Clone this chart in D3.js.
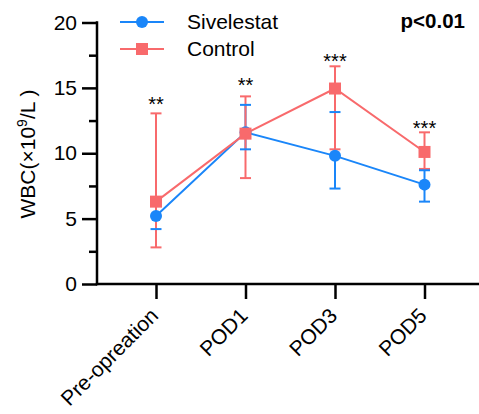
<!DOCTYPE html>
<html><head><meta charset="utf-8">
<script src="https://cdn.jsdelivr.net/npm/d3@7"></script>
<style>body{margin:0;background:#fff}svg{display:block}</style>
</head><body>
<script>
const categories = ["Pre-opreation","POD1","POD3","POD5"];
const sivMean  = [5.2, 11.6, 9.8, 7.6];
const sivLow   = [4.2, 10.3, 7.3, 6.3];
const sivHigh  = [6.2, 13.7, 13.15, 8.7];
const ctlMean  = [6.3, 11.5, 14.95, 10.1];
const ctlLow   = [2.8, 8.1, 10.3, 8.8];
const ctlHigh  = [13.05, 14.35, 16.65, 11.6];
const sigLabels = ["**","**","***","***"];
const sigAt     = [13.2, 14.7, 16.5, 11.4];
const yTicks = [0,5,10,15,20];
const yMinor = [2.5,7.5,12.5,17.5];

const W=479,H=414;
const svg=d3.select("body").append("svg").attr("width",W).attr("height",H);
const font="Liberation Sans, Arial, sans-serif";
const blue="#1A86F9", red="#F86A6C";
const x0=97, y0=284;
const FS=21;
const y=d3.scaleLinear().domain([0,20]).range([284,22.5]);
const x=d3.scalePoint().domain(categories).range([156,424.5]);

// y axis
const ya=svg.append("g").attr("transform",`translate(${x0},0)`)
 .call(d3.axisLeft(y).tickValues(yTicks).tickSize(15).tickPadding(5).tickSizeOuter(0));
ya.select(".domain").remove();
ya.selectAll(".tick line").attr("stroke","#000").attr("stroke-width",2.5);
ya.selectAll(".tick text").attr("font-family",font).attr("font-size",FS).attr("fill","#000");
const ym=svg.append("g").attr("transform",`translate(${x0},0)`)
 .call(d3.axisLeft(y).tickValues(yMinor).tickSize(8).tickFormat(""));
ym.select(".domain").remove();
ym.selectAll(".tick line").attr("stroke","#000").attr("stroke-width",2.5);
svg.append("line").attr("x1",x0).attr("x2",x0).attr("y1",y(20)-1.2).attr("y2",y0+1.2).attr("stroke","#000").attr("stroke-width",2.5);

// x axis
const xa=svg.append("g").attr("transform",`translate(0,${y0})`)
 .call(d3.axisBottom(x).tickSize(15).tickSizeOuter(0));
xa.select(".domain").remove();
xa.selectAll(".tick line").attr("stroke","#000").attr("stroke-width",2.5);
xa.selectAll(".tick text").attr("font-family",font).attr("font-size",FS).attr("fill","#000")
 .attr("text-anchor","end").attr("dy",0).attr("y",0)
 .attr("transform","translate(3,33) rotate(-45)");
svg.append("line").attr("x1",x0-1.2).attr("x2",W).attr("y1",y0).attr("y2",y0).attr("stroke","#000").attr("stroke-width",2.5);

// y label
svg.append("text").attr("transform",`translate(35,154) rotate(-90)`).attr("text-anchor","middle")
 .attr("font-family",font).attr("font-size",FS).attr("fill","#000")
 .html('WBC(×10<tspan dy="-8" font-size="14">9</tspan><tspan dy="8">/L  )</tspan>');

function bars(lo,hi,color){
  svg.append("g").selectAll("line").data(categories).join("line").attr("x1",d=>x(d)).attr("x2",d=>x(d))
   .attr("y1",(d,i)=>y(lo[i])).attr("y2",(d,i)=>y(hi[i])).attr("stroke",color).attr("stroke-width",2);
}
function caps(lo,hi,color){
  [lo,hi].forEach(arr=>{
    svg.append("g").selectAll("line").data(categories).join("line").attr("x1",d=>x(d)-5.5).attr("x2",d=>x(d)+5.5)
     .attr("y1",(d,i)=>y(arr[i])).attr("y2",(d,i)=>y(arr[i])).attr("stroke",color).attr("stroke-width",2);
  });
}
function line(mean,color){
  const l=d3.line().x((d,i)=>x(categories[i])).y(d=>y(d));
  svg.append("path").datum(mean).attr("d",l).attr("fill","none").attr("stroke",color).attr("stroke-width",2);
}
function markers(mean,color,shape){
  const g=svg.append("g");
  if(shape==="circle"){
    g.selectAll("circle").data(mean).join("circle").attr("cx",(d,i)=>x(categories[i])).attr("cy",d=>y(d)).attr("r",6).attr("fill",color);
  } else {
    g.selectAll("rect").data(mean).join("rect").attr("x",(d,i)=>x(categories[i])-6).attr("y",d=>y(d)-6).attr("width",12).attr("height",12).attr("fill",color);
  }
}
bars(sivLow,sivHigh,blue);
bars(ctlLow,ctlHigh,red);
caps(ctlLow,ctlHigh,red);
caps(sivLow,sivHigh,blue);
line(sivMean,blue);
line(ctlMean,red);
markers(sivMean,blue,"circle");
markers(ctlMean,red,"square");

// significance
svg.selectAll("text.sig").data(sigLabels).join("text").attr("class","sig")
 .attr("x",(d,i)=>x(categories[i])).attr("y",(d,i)=>y(sigAt[i]))
 .attr("text-anchor","middle").attr("font-family",font).attr("font-size",20).attr("fill","#000").text(d=>d);

// legend
const leg=[["Sivelestat",blue,"circle"],["Control",red,"square"]];
leg.forEach((l,i)=>{
  const ly=22+i*27;
  svg.append("line").attr("x1",120).attr("x2",164).attr("y1",ly).attr("y2",ly).attr("stroke",l[1]).attr("stroke-width",2);
  if(l[2]==="circle") svg.append("circle").attr("cx",142).attr("cy",ly).attr("r",6).attr("fill",l[1]);
  else svg.append("rect").attr("x",142-6).attr("y",ly-6).attr("width",12).attr("height",12).attr("fill",l[1]);
  svg.append("text").attr("x",187).attr("y",ly+7).attr("font-family",font).attr("font-size",FS).attr("fill","#000").text(l[0]);
});
svg.append("text").attr("x",465).attr("y",28).attr("text-anchor","end").attr("font-family",font).attr("font-weight","bold").attr("font-size",20.5).attr("fill","#000").text("p<0.01");
</script>
</body></html>
